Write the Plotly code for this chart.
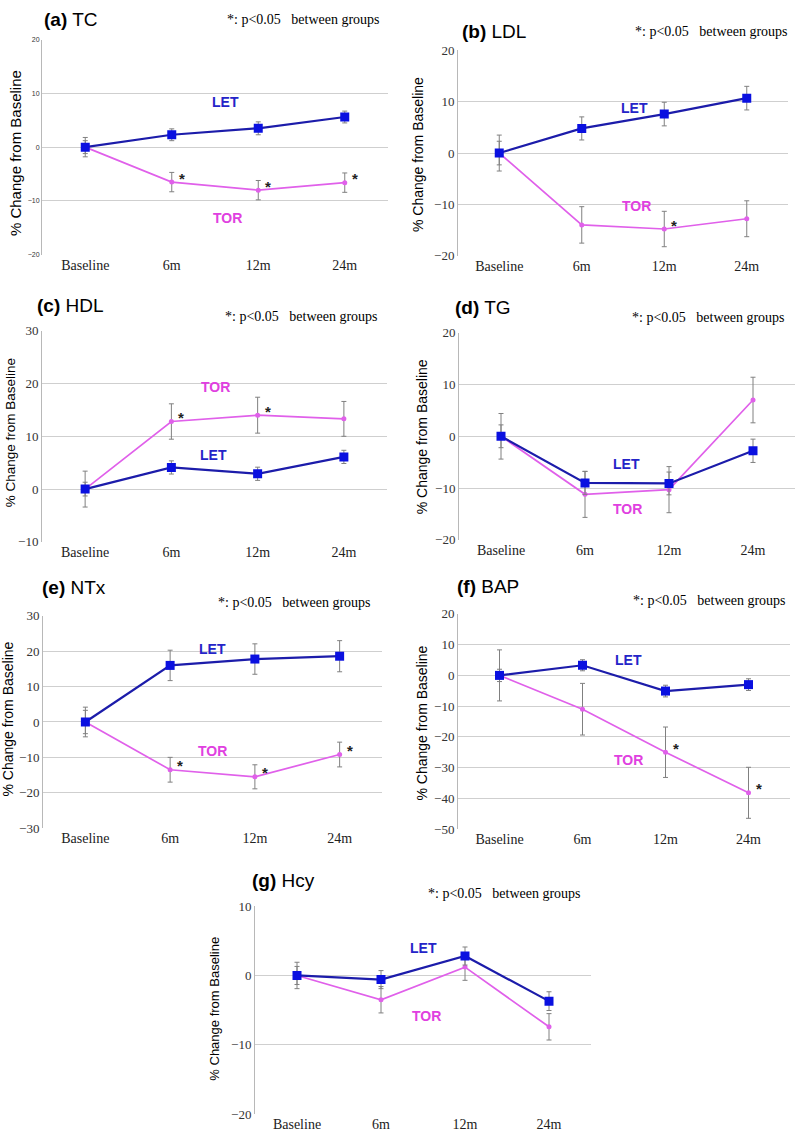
import plotly.graph_objects as go

W, H = 798, 1143

categories = ["Baseline", "6m", "12m", "24m"]

# (a) TC
tc_let = [0, 2.3, 3.5, 5.6]
tc_let_err = [1.2, 1.1, 1.2, 1.1]
tc_tor = [0, -6.5, -8.0, -6.6]
tc_tor_err = [1.8, 1.8, 1.8, 1.8]
tc_sig = [0, 1, 1, 1]

# (b) LDL
ldl_let = [0, 4.8, 7.6, 10.7]
ldl_let_err = [2.3, 2.25, 2.3, 2.3]
ldl_tor = [0, -14.0, -14.8, -12.8]
ldl_tor_err = [3.5, 3.55, 3.45, 3.5]
ldl_sig = [0, 0, 1, 0]

# (c) HDL
hdl_let = [0, 4.1, 2.9, 6.1]
hdl_let_err = [1.3, 1.25, 1.25, 1.25]
hdl_tor = [0, 12.8, 14.0, 13.3]
hdl_tor_err = [3.4, 3.35, 3.4, 3.3]
hdl_sig = [0, 1, 1, 0]

# (d) TG
tg_let = [0, -9.0, -9.1, -2.8]
tg_let_err = [2.2, 2.2, 2.2, 2.25]
tg_tor = [0, -11.2, -10.3, 7.0]
tg_tor_err = [4.4, 4.45, 4.45, 4.4]
tg_sig = [0, 0, 0, 0]

# (e) NTx
ntx_let = [0, 16.0, 17.8, 18.6]
ntx_let_err = [3.3, 4.3, 4.3, 4.4]
ntx_tor = [0, -13.5, -15.5, -9.2]
ntx_tor_err = [4.2, 3.5, 3.4, 3.5]
ntx_sig = [0, 1, 1, 1]

# (f) BAP
bap_let = [0, 3.3, -5.1, -3.0]
bap_let_err = [2.0, 1.8, 1.9, 1.9]
bap_tor = [0, -11.0, -25.0, -38.2]
bap_tor_err = [8.3, 8.4, 8.2, 8.3]
bap_sig = [0, 0, 1, 1]

# (g) Hcy
hcy_let = [0, -0.6, 2.8, -3.7]
hcy_let_err = [1.3, 1.3, 1.3, 1.35]
hcy_tor = [0, -3.5, 1.2, -7.4]
hcy_tor_err = [1.9, 1.9, 1.9, 1.9]
hcy_sig = [0, 0, 0, 0]

panels = [
    dict(tag="a", name="TC", let=tc_let, lete=tc_let_err, tor=tc_tor, tore=tc_tor_err, sig=tc_sig,
         yr=[-20, 20], box=(42, 388, 33, 251), title=(42, 13), pnote=(382, 13), ytitle=(15, 148, 15),
         letlab=(1.62, 8.4), torlab=(1.64, -13.2), small=True),
    dict(tag="b", name="LDL", let=ldl_let, lete=ldl_let_err, tor=ldl_tor, tore=ldl_tor_err, sig=ldl_sig,
         yr=[-20, 20], box=(458, 788, 44, 252), title=(460, 25), pnote=(790, 25), ytitle=(418, 150, 14),
         letlab=(1.64, 8.7), torlab=(1.66, -10.3), small=False),
    dict(tag="c", name="HDL", let=hdl_let, lete=hdl_let_err, tor=hdl_tor, tore=hdl_tor_err, sig=hdl_sig,
         yr=[-10, 30], box=(42, 387, 328, 542), title=(35, 302), pnote=(380, 314), ytitle=(10, 432, 13.5),
         letlab=(1.49, 6.5), torlab=(1.51, 19.4), small=False),
    dict(tag="d", name="TG", let=tg_let, lete=tg_let_err, tor=tg_tor, tore=tg_tor_err, sig=tg_sig,
         yr=[-20, 20], box=(459, 795, 330, 540), title=(453, 305), pnote=(787, 315), ytitle=(422, 436, 14),
         letlab=(1.49, -5.3), torlab=(1.5, -14.1), small=False),
    dict(tag="e", name="NTx", let=ntx_let, lete=ntx_let_err, tor=ntx_tor, tore=ntx_tor_err, sig=ntx_sig,
         yr=[-30, 30], box=(43, 382, 617, 832), title=(40, 588), pnote=(373, 603), ytitle=(8, 722, 14),
         letlab=(1.5, 20.6), torlab=(1.5, -8.1), small=False),
    dict(tag="f", name="BAP", let=bap_let, lete=bap_let_err, tor=bap_tor, tore=bap_tor_err, sig=bap_sig,
         yr=[-50, 20], box=(458, 790, 615, 833), title=(455, 587), pnote=(788, 601), ytitle=(422, 726, 14),
         letlab=(1.56, 5.1), torlab=(1.56, -27.6), small=False),
    dict(tag="g", name="Hcy", let=hcy_let, lete=hcy_let_err, tor=hcy_tor, tore=hcy_tor_err, sig=hcy_sig,
         yr=[-20, 10], box=(255, 591, 911, 1122), title=(250, 885), pnote=(583, 898), ytitle=(215, 1015, 13),
         letlab=(1.5, 4.0), torlab=(1.54, -5.8), small=False),
]

LET_LINE = "#1c1caa"
LET_MARK = "#0a10e0"
TOR_LINE = "#e060ea"
TOR_MARK = "#e060ea"
ERR = "#808080"

def px(x):
    return x / W

def py(y):
    return 1 - y / H

fig = go.Figure()
annotations = []
layout = {}

for i, p in enumerate(panels):
    n = i + 1
    xa = "x" if n == 1 else f"x{n}"
    ya = "y" if n == 1 else f"y{n}"
    xkey = "xaxis" if n == 1 else f"xaxis{n}"
    ykey = "yaxis" if n == 1 else f"yaxis{n}"
    x0, x1, y0, y1 = p["box"]

    fig.add_trace(go.Scatter(
        x=categories, y=p["tor"], xaxis=xa, yaxis=ya, mode="lines+markers",
        line=dict(color=TOR_LINE, width=1.7),
        marker=dict(symbol="circle", size=5, color=TOR_MARK),
        error_y=dict(type="data", array=p["tore"], color=ERR, thickness=1, width=2.5),
        showlegend=False, hoverinfo="skip"))
    fig.add_trace(go.Scatter(
        x=categories, y=p["let"], xaxis=xa, yaxis=ya, mode="lines+markers",
        line=dict(color=LET_LINE, width=2.2),
        marker=dict(symbol="square", size=9, color=LET_MARK),
        error_y=dict(type="data", array=p["lete"], color=ERR, thickness=1, width=2.5),
        showlegend=False, hoverinfo="skip"))

    layout[xkey] = dict(
        domain=[px(x0), px(x1)], anchor=ya, type="category", range=[-0.5, 3.5],
        showgrid=False, zeroline=False, showline=False, ticks="",
        tickfont=dict(family="Liberation Serif", size=14, color="#222"),
    )
    ytf = dict(family="Liberation Sans", size=7, color="#333") if p["small"] else \
        dict(family="Liberation Serif", size=13, color="#333")
    layout[ykey] = dict(
        domain=[py(y1), py(y0)], anchor=xa, range=p["yr"], dtick=10,
        showgrid=True, gridcolor="#cfcfcf", gridwidth=1, zeroline=False,
        showline=True, linecolor="#b8b8b8", linewidth=1, ticks="",
        tickfont=ytf,
    )

    # panel title
    annotations.append(dict(
        x=px(p["title"][0]), y=py(p["title"][1]), xref="paper", yref="paper",
        xanchor="left", yanchor="middle", showarrow=False,
        text=f"<b>({p['tag']})</b> {p['name']}",
        font=dict(family="Liberation Sans", size=19, color="#000")))
    # p note
    annotations.append(dict(
        x=px(p["pnote"][0]), y=py(p["pnote"][1]), xref="paper", yref="paper",
        xanchor="right", yanchor="middle", showarrow=False,
        text="*: p&lt;0.05\u00a0\u00a0\u00a0between groups",
        font=dict(family="Liberation Serif", size=14, color="#000")))
    # y title
    annotations.append(dict(
        x=px(p["ytitle"][0]), y=py(p["ytitle"][1]), xref="paper", yref="paper",
        xanchor="center", yanchor="middle", showarrow=False, textangle=-90,
        text="% Change from Baseline",
        font=dict(family="Liberation Sans", size=p["ytitle"][2], color="#000")))
    # series labels
    annotations.append(dict(
        x=p["letlab"][0], y=p["letlab"][1], xref=xa, yref=ya, showarrow=False,
        text="<b>LET</b>", font=dict(family="Liberation Sans", size=14, color="#2424c8")))
    annotations.append(dict(
        x=p["torlab"][0], y=p["torlab"][1], xref=xa, yref=ya, showarrow=False,
        text="<b>TOR</b>", font=dict(family="Liberation Sans", size=14, color="#e040e0")))
    # significance asterisks
    for j, s in enumerate(p["sig"]):
        if s:
            annotations.append(dict(
                x=j, y=p["tor"][j], xref=xa, yref=ya, showarrow=False,
                text="<b>*</b>", xshift=10, yshift=4,
                font=dict(family="Liberation Sans", size=15, color="#222")))

fig.update_layout(
    width=W, height=H, margin=dict(l=0, r=0, t=0, b=0),
    paper_bgcolor="white", plot_bgcolor="white",
    annotations=annotations, **layout)

css_fix = (
    "var s=document.createElement('style');"
    "s.textContent='html,body{margin:0;padding:0;overflow:hidden;width:798px;height:1143px;}"
    "body>div{margin:0;padding:0;}';"
    "document.head.appendChild(s);"
)

fig.write_html("out.html", post_script=css_fix, config={"displayModeBar": False})
